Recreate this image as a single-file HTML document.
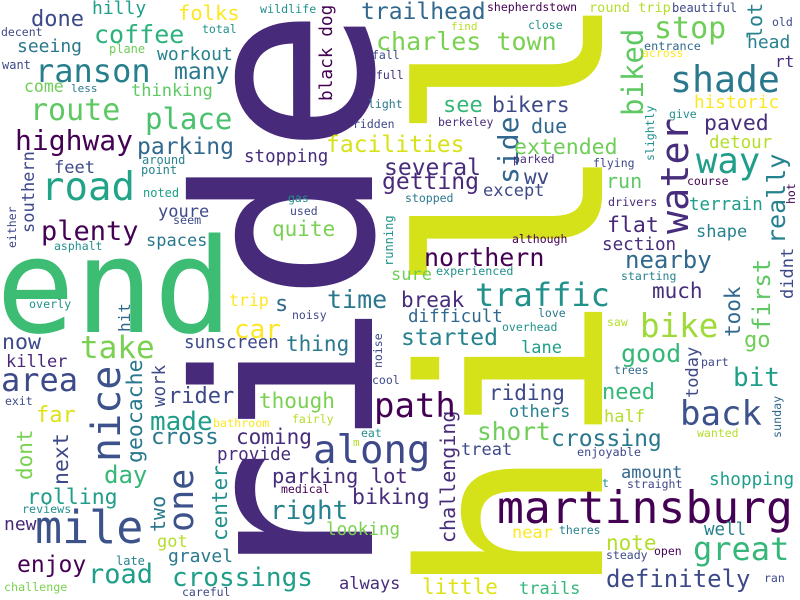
<!DOCTYPE html>
<html><head><meta charset="utf-8"><style>
html,body{margin:0;padding:0;background:#fff;}
svg{display:block;}
text{font-family:"DejaVu Sans Mono","Liberation Mono",monospace;}
</style></head><body>
<svg width="800" height="600" viewBox="0 0 800 600">
<rect width="800" height="600" fill="#fff"/>
<g>
<text transform="translate(372,597) rotate(-90)" font-size="245" fill="#472a7a">ride</text>
<text transform="translate(602,598) rotate(-90)" font-size="252" fill="#d5e21a">hill</text>
<text transform="translate(34,233) rotate(-90)" font-size="17" fill="#3e4989">southern</text>
<text transform="translate(16,248) rotate(-90)" font-size="11.5" fill="#3e4989">either</text>
<text transform="translate(130,332) rotate(-90)" font-size="16" fill="#31688e">hit</text>
<text transform="translate(120,462) rotate(-90)" font-size="40" fill="#3b528b">nice</text>
<text transform="translate(142,463) rotate(-90)" font-size="21.5" fill="#2a788e">geocache</text>
<text transform="translate(165,407) rotate(-90)" font-size="17.5" fill="#3e4989">work</text>
<text transform="translate(32,480) rotate(-90)" font-size="21" fill="#7ad151">dont</text>
<text transform="translate(68,485) rotate(-90)" font-size="21.5" fill="#3e4989">next</text>
<text transform="translate(165,532) rotate(-90)" font-size="20" fill="#2a788e">two</text>
<text transform="translate(193,532) rotate(-90)" font-size="35" fill="#3b528b">one</text>
<text transform="translate(332,101) rotate(-90)" font-size="17.8" fill="#440154">black dog</text>
<text transform="translate(518,184) rotate(-90)" font-size="28" fill="#31688e">side</text>
<text transform="translate(654,161) rotate(-90)" font-size="11.5" fill="#21918c">slightly</text>
<text transform="translate(393,266) rotate(-90)" font-size="12" fill="#21918c">running</text>
<text transform="translate(382,368) rotate(-90)" font-size="11.5" fill="#3e4989">noise</text>
<text transform="translate(740,337) rotate(-90)" font-size="21" fill="#31688e">took</text>
<text transform="translate(770,331) rotate(-90)" font-size="24" fill="#5ec962">first</text>
<text transform="translate(698,398) rotate(-90)" font-size="17" fill="#3e4989">today</text>
<text transform="translate(781,438) rotate(-90)" font-size="11.7" fill="#31688e">sunday</text>
<text transform="translate(455,543) rotate(-90)" font-size="20" fill="#472d7b">challenging</text>
<text transform="translate(227,541) rotate(-90)" font-size="21" fill="#21918c">center</text>
<text transform="translate(762,39) rotate(-90)" font-size="20" fill="#26828e">lot</text>
<text transform="translate(643,116) rotate(-90)" font-size="29" fill="#5ec962">biked</text>
<text transform="translate(688,234) rotate(-90)" font-size="38.5" fill="#472d7b">water</text>
<text transform="translate(785,244) rotate(-90)" font-size="25" fill="#26828e">really</text>
<text transform="translate(795,204) rotate(-90)" font-size="11.5" fill="#440154">hot</text>
<text transform="translate(793,299) rotate(-90)" font-size="17" fill="#3e4989">didnt</text>
</g>
<g>
<text x="-4" y="332" font-size="131" fill="#3dbc74">end</text>
<text x="31" y="26" font-size="22" fill="#3e4989">done</text>
<text x="92" y="14" font-size="18" fill="#1f9e89">hilly</text>
<text x="178" y="20" font-size="20.5" fill="#fde725">folks</text>
<text x="94" y="43" font-size="25" fill="#2db27d">coffee</text>
<text x="1" y="36" font-size="11.5" fill="#3e4989">decent</text>
<text x="17" y="52" font-size="18" fill="#2a788e">seeing</text>
<text x="109" y="53" font-size="12" fill="#6ece58">plane</text>
<text x="157" y="60" font-size="18" fill="#26828e">workout</text>
<text x="35" y="82" font-size="32" fill="#277f8e">ranson</text>
<text x="2" y="69" font-size="12" fill="#3e4989">want</text>
<text x="174" y="79" font-size="23" fill="#2a788e">many</text>
<text x="24" y="92" font-size="16.5" fill="#6ece58">come</text>
<text x="71" y="92" font-size="11" fill="#2a788e">less</text>
<text x="131" y="96" font-size="17" fill="#5ec962">thinking</text>
<text x="30" y="120" font-size="30" fill="#5ec962">route</text>
<text x="145" y="129" font-size="29" fill="#4ac16d">place</text>
<text x="15" y="150" font-size="28" fill="#440154">highway</text>
<text x="137" y="154" font-size="23" fill="#31688e">parking</text>
<text x="142" y="164" font-size="12" fill="#26828e">around</text>
<text x="141" y="174" font-size="12" fill="#26828e">point</text>
<text x="244" y="162" font-size="17.5" fill="#472d7b">stopping</text>
<text x="54" y="173" font-size="17" fill="#3e4989">feet</text>
<text x="41" y="200" font-size="39" fill="#20a386">road</text>
<text x="143" y="197" font-size="12" fill="#1f9e89">noted</text>
<text x="158" y="217" font-size="17" fill="#3e4989">youre</text>
<text x="173" y="224" font-size="11.7" fill="#3e4989">seem</text>
<text x="41" y="240" font-size="27" fill="#440154">plenty</text>
<text x="146" y="246" font-size="17" fill="#2a788e">spaces</text>
<text x="54" y="250" font-size="11.5" fill="#21918c">asphalt</text>
<text x="29" y="308" font-size="11.7" fill="#21918c">overly</text>
<text x="2" y="349" font-size="21.6" fill="#3e4989">now</text>
<text x="80" y="358" font-size="31" fill="#7ad151">take</text>
<text x="6" y="367" font-size="17" fill="#482878">killer</text>
<text x="1" y="391" font-size="32" fill="#3e4989">area</text>
<text x="5" y="405" font-size="11.5" fill="#3e4989">exit</text>
<text x="36" y="422" font-size="22" fill="#dde318">far</text>
<text x="150" y="430" font-size="26" fill="#1f9e89">made</text>
<text x="151" y="444" font-size="22.5" fill="#2a788e">cross</text>
<text x="168" y="403" font-size="22" fill="#3e4989">rider</text>
<text x="104" y="483" font-size="24" fill="#35b779">day</text>
<text x="27" y="504" font-size="21.5" fill="#1f9e89">rolling</text>
<text x="22" y="513" font-size="11.7" fill="#21918c">reviews</text>
<text x="4" y="530" font-size="18" fill="#482878">new</text>
<text x="35" y="543" font-size="45" fill="#3b528b">mile</text>
<text x="157" y="547" font-size="17" fill="#b5de2b">got</text>
<text x="168" y="562" font-size="18" fill="#2a788e">gravel</text>
<text x="116" y="565" font-size="12" fill="#26828e">late</text>
<text x="17" y="572" font-size="23" fill="#440154">enjoy</text>
<text x="88" y="583" font-size="27" fill="#1f9e89">road</text>
<text x="4" y="591" font-size="11.7" fill="#7ad151">challenge</text>
<text x="172" y="586" font-size="26" fill="#1f9e89">crossings</text>
<text x="182" y="596" font-size="11.5" fill="#3e4989">careful</text>
<text x="260" y="13" font-size="11.7" fill="#21918c">wildlife</text>
<text x="202" y="33" font-size="11.5" fill="#21918c">total</text>
<text x="361" y="19" font-size="23" fill="#31688e">trailhead</text>
<text x="487" y="11" font-size="11.5" fill="#440154">shepherdstown</text>
<text x="589" y="12" font-size="13.6" fill="#b5de2b">round trip</text>
<text x="451" y="30" font-size="11" fill="#b5de2b">find</text>
<text x="528" y="29" font-size="11.5" fill="#21918c">close</text>
<text x="376" y="50" font-size="25" fill="#7ad151">charles town</text>
<text x="372" y="59" font-size="11.5" fill="#3e4989">fall</text>
<text x="376" y="79" font-size="11.5" fill="#472d7b">full</text>
<text x="368" y="108" font-size="11.5" fill="#2a788e">light</text>
<text x="353" y="128" font-size="11.5" fill="#3e4989">ridden</text>
<text x="443" y="112" font-size="22" fill="#35b779">see</text>
<text x="492" y="112" font-size="21.5" fill="#3e4989">bikers</text>
<text x="438" y="126" font-size="11.5" fill="#472d7b">berkeley</text>
<text x="531" y="133" font-size="20" fill="#31688e">due</text>
<text x="326" y="152" font-size="23" fill="#d8e219">facilities</text>
<text x="514" y="154" font-size="21.5" fill="#6ece58">extended</text>
<text x="513" y="163" font-size="11.5" fill="#472d7b">parked</text>
<text x="384" y="175" font-size="23" fill="#472d7b">several</text>
<text x="524" y="184" font-size="21" fill="#3e4989">wv</text>
<text x="382" y="189" font-size="23" fill="#482878">getting</text>
<text x="483" y="196" font-size="17" fill="#3e4989">except</text>
<text x="405" y="202" font-size="11.5" fill="#2a788e">stopped</text>
<text x="593" y="167" font-size="11.5" fill="#3e4989">flying</text>
<text x="606" y="188" font-size="20" fill="#5ec962">run</text>
<text x="288" y="202" font-size="11.5" fill="#21918c">gas</text>
<text x="290" y="215" font-size="11.5" fill="#3e4989">used</text>
<text x="272" y="236" font-size="21" fill="#7ad151">quite</text>
<text x="512" y="243" font-size="11.5" fill="#440154">although</text>
<text x="424" y="266" font-size="25" fill="#440154">northern</text>
<text x="608" y="206" font-size="11.7" fill="#482878">drivers</text>
<text x="607" y="232" font-size="21.5" fill="#482878">flat</text>
<text x="602" y="250" font-size="17.6" fill="#472d7b">section</text>
<text x="391" y="280" font-size="17" fill="#6ece58">sure</text>
<text x="436" y="275" font-size="11.7" fill="#21918c">experienced</text>
<text x="625" y="268" font-size="24" fill="#31688e">nearby</text>
<text x="621" y="280" font-size="11.5" fill="#26828e">starting</text>
<text x="229" y="306" font-size="16.5" fill="#fde725">trip</text>
<text x="275" y="311" font-size="22" fill="#31688e">s</text>
<text x="327" y="308" font-size="25" fill="#2a788e">time</text>
<text x="401" y="307" font-size="21" fill="#472d7b">break</text>
<text x="475" y="306" font-size="32" fill="#21918c">traffic</text>
<text x="292" y="319" font-size="11.5" fill="#3e4989">noisy</text>
<text x="408" y="322" font-size="17.5" fill="#31688e">difficult</text>
<text x="538" y="317" font-size="11.5" fill="#2a788e">love</text>
<text x="502" y="331" font-size="11.5" fill="#21918c">overhead</text>
<text x="607" y="326" font-size="11.5" fill="#b5de2b">saw</text>
<text x="234" y="338" font-size="26" fill="#fde725">car</text>
<text x="286" y="351" font-size="21" fill="#2a788e">thing</text>
<text x="184" y="348" font-size="17.5" fill="#3e4989">sunscreen</text>
<text x="401" y="345" font-size="23" fill="#26828e">started</text>
<text x="521" y="353" font-size="17" fill="#1f9e89">lane</text>
<text x="372" y="384" font-size="11.5" fill="#3e4989">cool</text>
<text x="614" y="374" font-size="11.5" fill="#31688e">trees</text>
<text x="621" y="362" font-size="25" fill="#35b779">good</text>
<text x="744" y="347" font-size="22" fill="#6ece58">go</text>
<text x="640" y="337" font-size="32.5" fill="#a0da39">bike</text>
<text x="701" y="366" font-size="11.5" fill="#3e4989">part</text>
<text x="733" y="386" font-size="26" fill="#1f9e89">bit</text>
<text x="602" y="399" font-size="22" fill="#35b779">need</text>
<text x="489" y="400" font-size="21" fill="#3e4989">riding</text>
<text x="259" y="408" font-size="21" fill="#7ad151">though</text>
<text x="374" y="417" font-size="34" fill="#440154">path</text>
<text x="509" y="417" font-size="17" fill="#26828e">others</text>
<text x="604" y="422" font-size="17" fill="#b5de2b">half</text>
<text x="680" y="425" font-size="34" fill="#3b528b">back</text>
<text x="213" y="427" font-size="11.7" fill="#fde725">bathroom</text>
<text x="292" y="423" font-size="11.5" fill="#b5de2b">fairly</text>
<text x="236" y="444" font-size="21" fill="#472d7b">coming</text>
<text x="361" y="437" font-size="11.5" fill="#21918c">eat</text>
<text x="353" y="446" font-size="11" fill="#b5de2b">m</text>
<text x="313" y="463" font-size="39" fill="#3e4989">along</text>
<text x="477" y="440" font-size="24.5" fill="#6ece58">short</text>
<text x="551" y="446" font-size="23" fill="#2a788e">crossing</text>
<text x="697" y="437" font-size="11.5" fill="#b5de2b">wanted</text>
<text x="461" y="455" font-size="17" fill="#3e4989">treat</text>
<text x="577" y="456" font-size="11.8" fill="#3e4989">enjoyable</text>
<text x="272" y="483" font-size="20.5" fill="#472d7b">parking lot</text>
<text x="217" y="460" font-size="17.6" fill="#472d7b">provide</text>
<text x="281" y="493" font-size="11.5" fill="#440154">medical</text>
<text x="621" y="478" font-size="17" fill="#31688e">amount</text>
<text x="602" y="487" font-size="11.5" fill="#21918c">t</text>
<text x="627" y="488" font-size="11.5" fill="#3e4989">straight</text>
<text x="709" y="485" font-size="17.7" fill="#1f9e89">shopping</text>
<text x="497" y="523" font-size="44.7" fill="#440154">martinsburg</text>
<text x="270" y="519" font-size="26" fill="#26828e">right</text>
<text x="352" y="504" font-size="21.5" fill="#472d7b">biking</text>
<text x="326" y="535" font-size="17.6" fill="#7ad151">looking</text>
<text x="704" y="535" font-size="17.5" fill="#26828e">well</text>
<text x="512" y="538" font-size="17" fill="#fde725">near</text>
<text x="559" y="534" font-size="11.5" fill="#26828e">theres</text>
<text x="606" y="550" font-size="21" fill="#b5de2b">note</text>
<text x="606" y="559" font-size="11.5" fill="#3e4989">steady</text>
<text x="654" y="555" font-size="11.5" fill="#440154">open</text>
<text x="693" y="560" font-size="32" fill="#35b779">great</text>
<text x="606" y="587" font-size="24" fill="#3e4989">definitely</text>
<text x="764" y="582" font-size="11.5" fill="#3e4989">ran</text>
<text x="422" y="594" font-size="21" fill="#dde318">little</text>
<text x="519" y="594" font-size="17" fill="#35b779">trails</text>
<text x="339" y="589" font-size="17" fill="#472d7b">always</text>
<text x="654" y="38" font-size="30" fill="#6ece58">stop</text>
<text x="672" y="12" font-size="12" fill="#3e4989">beautiful</text>
<text x="772" y="26" font-size="11.5" fill="#3e4989">old</text>
<text x="747" y="48" font-size="18" fill="#26828e">head</text>
<text x="644" y="50" font-size="11.8" fill="#31688e">entrance</text>
<text x="642" y="57" font-size="11.5" fill="#fde725">across</text>
<text x="775" y="67" font-size="16" fill="#472d7b">rt</text>
<text x="670" y="92" font-size="36.5" fill="#2a788e">shade</text>
<text x="694" y="108" font-size="17.7" fill="#fde725">historic</text>
<text x="669" y="118" font-size="11.5" fill="#21918c">give</text>
<text x="704" y="130" font-size="21.5" fill="#472d7b">paved</text>
<text x="709" y="148" font-size="17.5" fill="#b5de2b">detour</text>
<text x="696" y="173" font-size="35.5" fill="#1f9e89">way</text>
<text x="687" y="185" font-size="11.5" fill="#440154">course</text>
<text x="689" y="210" font-size="17.5" fill="#1f9e89">terrain</text>
<text x="696" y="237" font-size="17" fill="#26828e">shape</text>
<text x="652" y="298" font-size="21" fill="#472d7b">much</text>
</g>
</svg>
</body></html>
